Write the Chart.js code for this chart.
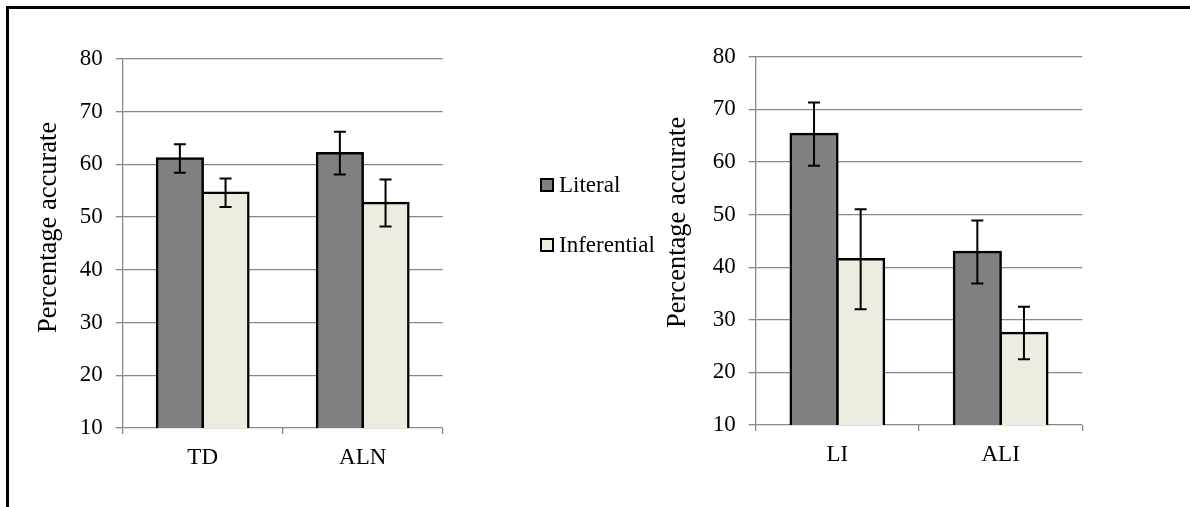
<!DOCTYPE html>
<html>
<head>
<meta charset="utf-8">
<script src="https://cdn.jsdelivr.net/npm/chart.js@4.4.1/dist/chart.umd.min.js"></script>
<style>
  html, body { margin: 0; padding: 0; background: #fff; width: 1190px; height: 507px; overflow: hidden; }
  #frame { position: absolute; left: 6px; top: 6px; width: 1200px; height: 520px; border-top: 3px solid #000; border-left: 3px solid #000; }
  .box { position: absolute; }
  #leftBox { left: 12px; top: 32px; width: 655px; height: 456px; }
  #rightBox { left: 667px; top: 30px; width: 523px; height: 455px; }
</style>
</head>
<body>
<div id="frame"></div>
<div class="box" id="leftBox"><canvas id="leftChart"></canvas></div>
<div class="box" id="rightBox"><canvas id="rightChart"></canvas></div>
<script>
// --- data ---
const seriesNames = ['Literal', 'Inferential'];
const yAxisTitle = 'Percentage accurate';
const yMin = 10;
const yMax = 80;
const yStep = 10;

const leftCategories = ['TD', 'ALN'];
const leftLiteral = [61.1, 62.1];
const leftLiteralErr = [2.7, 4.05];
const leftInferential = [54.6, 52.65];
const leftInferentialErr = [2.7, 4.45];

const rightCategories = ['LI', 'ALI'];
const rightLiteral = [65.3, 42.9];
const rightLiteralErr = [6.0, 6.0];
const rightInferential = [41.5, 27.5];
const rightInferentialErr = [9.5, 5.0];

// --- styles ---
const serif = '"Liberation Serif", "Times New Roman", serif';
const gridColor = '#888888';
const literalColor = '#808080';
const inferentialColor = '#EEECE1';

// error bars drawn from the y scale
const errorBars = {
  id: 'errorBars',
  afterDatasetsDraw(chart, args, opts) {
    const ctx = chart.ctx;
    const y = chart.scales.y;
    chart.data.datasets.forEach((ds, i) => {
      const meta = chart.getDatasetMeta(i);
      meta.data.forEach((bar, j) => {
        const v = ds.data[j];
        const e = ds.errors[j];
        const top = y.getPixelForValue(v + e);
        const bot = y.getPixelForValue(v - e);
        ctx.save();
        ctx.strokeStyle = '#000';
        ctx.lineWidth = 2;
        ctx.beginPath();
        ctx.moveTo(bar.x, top); ctx.lineTo(bar.x, bot);
        ctx.moveTo(bar.x - 6, top); ctx.lineTo(bar.x + 6, top);
        ctx.moveTo(bar.x - 6, bot); ctx.lineTo(bar.x + 6, bot);
        ctx.stroke();
        ctx.restore();
      });
    });
  }
};

// rotated y title, a bit above the middle like the original
const yTitle = {
  id: 'yTitle',
  afterDraw(chart, args, opts) {
    const a = chart.chartArea;
    const ctx = chart.ctx;
    ctx.save();
    ctx.translate(a.left - opts.offset, (a.top + a.bottom) / 2 - opts.shift);
    ctx.rotate(-Math.PI / 2);
    ctx.font = '26.5px ' + serif;
    ctx.fillStyle = '#000';
    ctx.textAlign = 'center';
    ctx.textBaseline = 'middle';
    ctx.fillText(yAxisTitle, 0, 0);
    ctx.restore();
  }
};

// legend sitting between the two charts
const sideLegend = {
  id: 'sideLegend',
  afterDraw(chart, args, opts) {
    if (!opts.display) return;
    const ctx = chart.ctx;
    ctx.save();
    ctx.font = '23px ' + serif;
    ctx.textBaseline = 'middle';
    ctx.textAlign = 'left';
    chart.data.datasets.forEach((ds, i) => {
      const cy = opts.y + i * opts.spacing;
      ctx.fillStyle = ds.backgroundColor;
      ctx.fillRect(opts.x, cy - 6, 12, 12);
      ctx.strokeStyle = '#000';
      ctx.lineWidth = 2;
      ctx.strokeRect(opts.x, cy - 6, 12, 12);
      ctx.fillStyle = '#000';
      ctx.fillText(ds.label, opts.x + 18, cy + 1);
    });
    ctx.restore();
  }
};

function makeDatasets(lit, litErr, inf, infErr) {
  const common = {
    borderColor: '#000',
    borderWidth: 2.5,
    borderSkipped: 'start',
    inflateAmount: 1.25,
    categoryPercentage: 0.571,
    barPercentage: 1.0
  };
  return [
    Object.assign({ label: seriesNames[0], data: lit, errors: litErr, backgroundColor: literalColor }, common),
    Object.assign({ label: seriesNames[1], data: inf, errors: infErr, backgroundColor: inferentialColor }, common)
  ];
}

function makeScales(yWidth) {
  return {
    x: {
      grid: { display: true, drawOnChartArea: false, drawTicks: true, tickLength: 6, color: gridColor, lineWidth: 1.3 },
      border: { display: false },
      ticks: { color: '#000', font: { family: serif, size: 23 }, padding: 10 },
      afterFit: function (s) { s.height = 60; }
    },
    y: {
      min: yMin,
      max: yMax,
      ticks: { stepSize: yStep, color: '#000', font: { family: serif, size: 23 }, padding: 13 },
      grid: { color: gridColor, lineWidth: 1.3, tickLength: 7 },
      border: { display: true, color: gridColor, width: 1.3 },
      afterFit: function (s) { s.width = yWidth; }
    }
  };
}

new Chart(document.getElementById('leftChart'), {
  type: 'bar',
  data: {
    labels: leftCategories,
    datasets: makeDatasets(leftLiteral, leftLiteralErr, leftInferential, leftInferentialErr)
  },
  options: {
    responsive: true,
    maintainAspectRatio: false,
    animation: false,
    events: [],
    layout: { padding: { top: 20.3, right: 224.3, bottom: 0, left: 0 } },
    plugins: {
      legend: { display: false },
      tooltip: { enabled: false },
      yTitle: { offset: 74, shift: 16 },
      sideLegend: { display: true, x: 529, y: 153, spacing: 60 }
    },
    scales: makeScales(110.7)
  },
  plugins: [errorBars, yTitle, sideLegend]
});

new Chart(document.getElementById('rightChart'), {
  type: 'bar',
  data: {
    labels: rightCategories,
    datasets: makeDatasets(rightLiteral, rightLiteralErr, rightInferential, rightInferentialErr)
  },
  options: {
    responsive: true,
    maintainAspectRatio: false,
    animation: false,
    events: [],
    layout: { padding: { top: 20.3, right: 107.7, bottom: 0, left: 0 } },
    plugins: {
      legend: { display: false },
      tooltip: { enabled: false },
      yTitle: { offset: 78, shift: 18.5 },
      sideLegend: { display: false }
    },
    scales: makeScales(88.7)
  },
  plugins: [errorBars, yTitle, sideLegend]
});
</script>
</body>
</html>
